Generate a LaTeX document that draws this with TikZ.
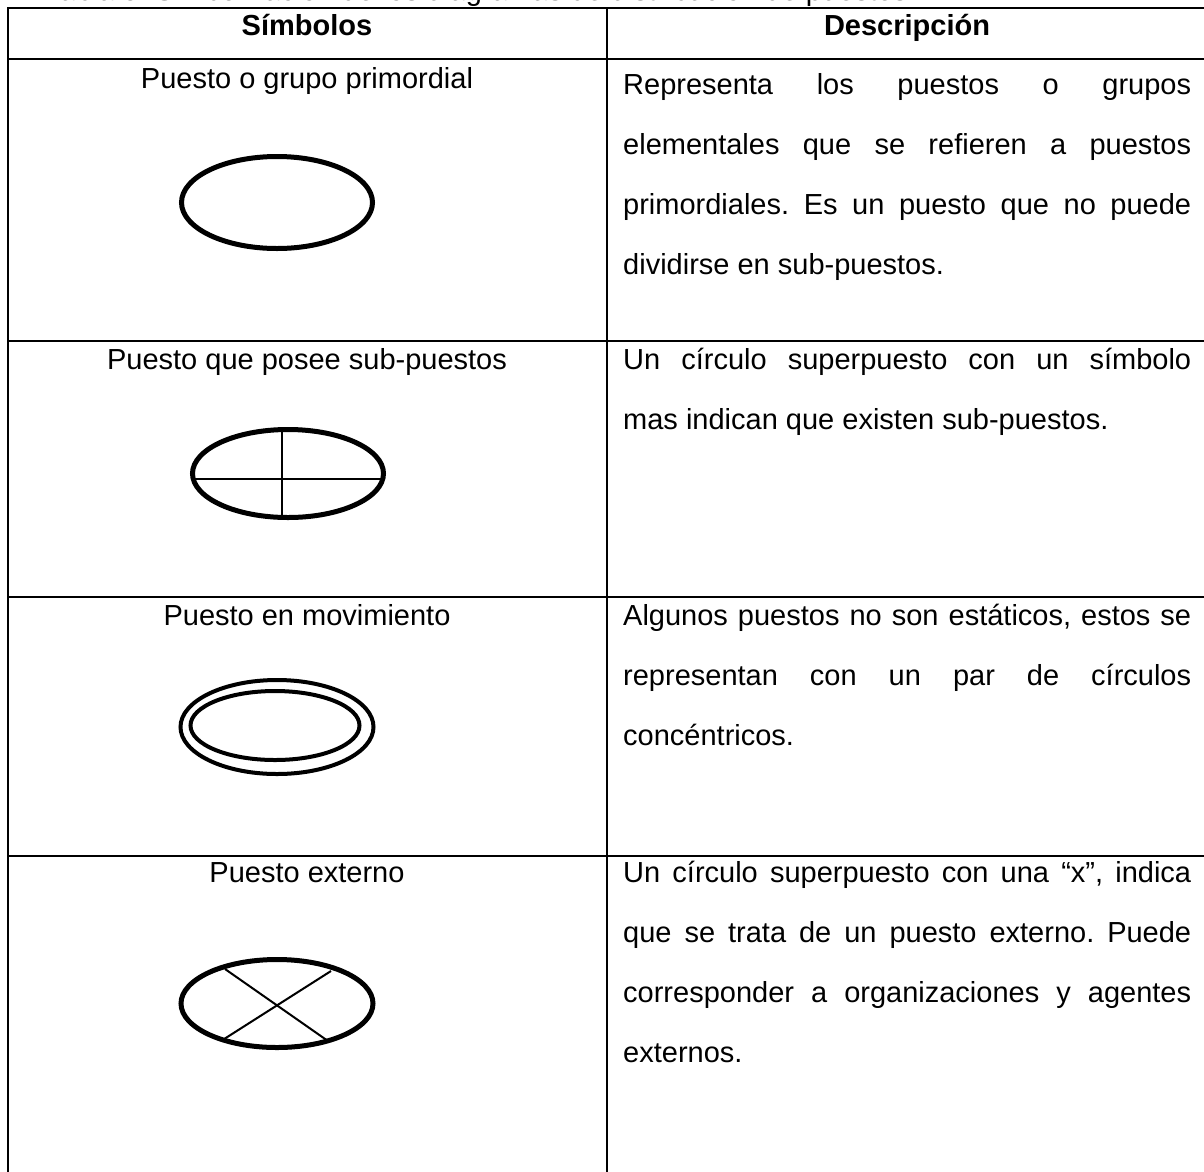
\documentclass[tikz,border=0pt]{standalone}
\usepackage{fontspec}
\setmainfont{Liberation Sans}
\frenchspacing
\begin{document}
\begin{tikzpicture}[x=1pt,y=-1pt,
  rule/.style={line width=2pt, black},
  sym/.style={line width=5pt, black},
  dbl/.style={line width=4pt, black},
  crossln/.style={line width=2pt, black},
  hdr/.style={font=\bfseries\fontsize{29}{35}\selectfont, anchor=base, inner sep=0pt},
  ttl/.style={font=\fontsize{29}{35}\selectfont, anchor=base, inner sep=0pt},
  desc/.style={font=\fontsize{29}{60}\selectfont, anchor=north west, inner sep=0pt, text width=568pt, align=justify}]
\useasboundingbox (0,0) rectangle (1204,1171);
\clip (0,0) rectangle (1204,1171);
% caption (cut off at top)
\node[ttl, anchor=base west] (cap) at (45,0.5) {Tabla 5. Simbolización de los diagramas de distribución de puestos};
% table rules
\draw[rule] (8,1180) -- (8,7.5) -- (1215,7.5);
\draw[rule] (607,7.5) -- (607,1180);
\draw[rule] (8,59) -- (1215,59);
\draw[rule] (8,341) -- (1215,341);
\draw[rule] (8,597) -- (1215,597);
\draw[rule] (8,856) -- (1215,856);
% header
\node[hdr] (h1) at (307,35) {Símbolos};
\node[hdr] (h2) at (907,35) {Descripción};
% row titles
\node[ttl] (t1) at (307,88) {Puesto o grupo primordial};
\node[ttl] (t2) at (307,369) {Puesto que posee sub-puestos};
\node[ttl] (t3) at (307,625) {Puesto en movimiento};
\node[ttl] (t4) at (307,882) {Puesto externo};
% descriptions
\node[desc] (d1) at (623,94-42) {\strut Representa los puestos o grupos\linebreak elementales que se refieren a puestos\linebreak primordiales. Es un puesto que no puede\linebreak dividirse en sub-puestos.};
\node[desc] (d2) at (623,369-42) {\strut Un círculo superpuesto con un símbolo\linebreak mas indican que existen sub-puestos.};
\node[desc] (d3) at (623,625-42) {\strut Algunos puestos no son estáticos, estos se\linebreak representan con un par de círculos\linebreak concéntricos.};
\node[desc] (d4) at (623,882-42) {\strut Un círculo superpuesto con una “x”, indica\linebreak que se trata de un puesto externo. Puede\linebreak corresponder a organizaciones y agentes\linebreak externos.};
% symbol 1
\draw[sym] (277,202.5) ellipse [x radius=95.5pt, y radius=46pt];
% symbol 2
\draw[crossln] (282,429) -- (282,518);
\draw[crossln] (192,479) -- (384,479);
\draw[sym] (288,473.5) ellipse [x radius=95.5pt, y radius=44pt];
% symbol 3
\draw[dbl] (277,727) ellipse [x radius=96.5pt, y radius=47pt];
\draw[dbl] (275,725.5) ellipse [x radius=84.5pt, y radius=34.5pt];
% symbol 4
\draw[crossln] (225,969) -- (328,1041);
\draw[crossln] (331,971) -- (221,1041);
\draw[sym] (277,1003.5) ellipse [x radius=96pt, y radius=44pt];
\end{tikzpicture}
\end{document}
